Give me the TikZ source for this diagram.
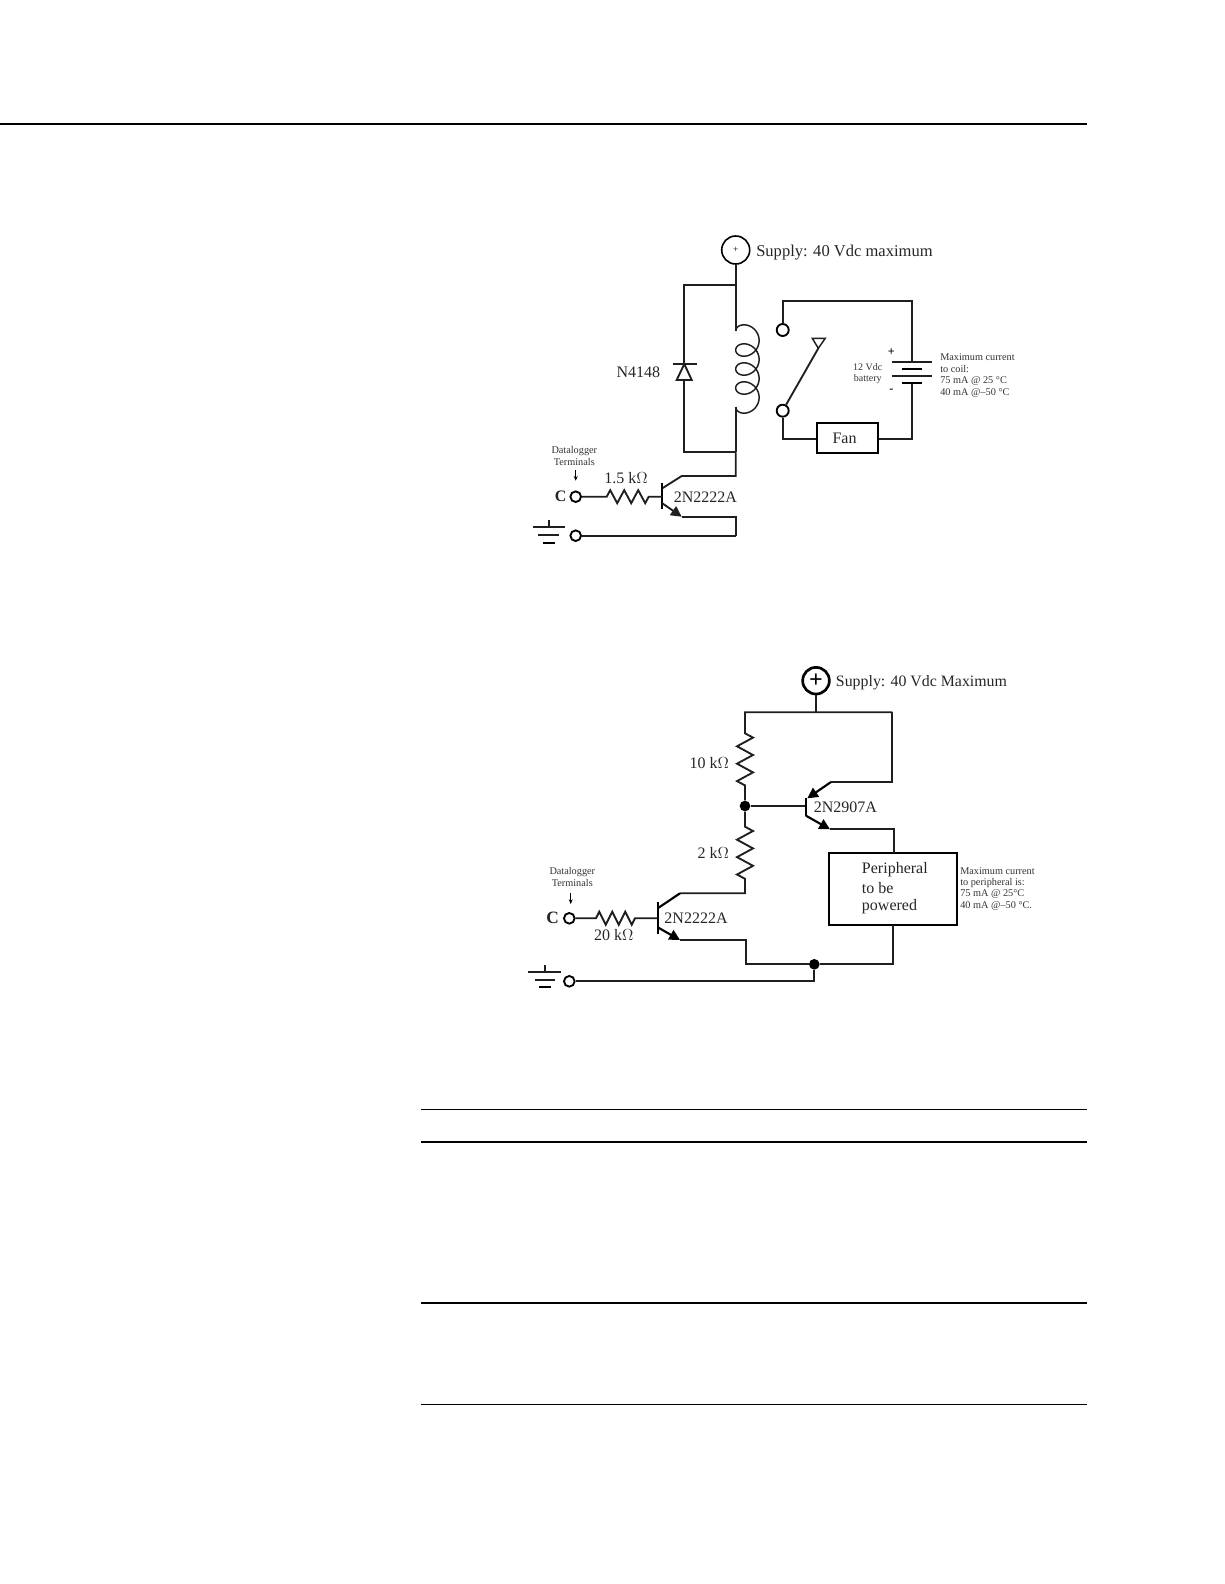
\documentclass[tikz,border=0pt]{standalone}
\usepackage{fontspec}
\setmainfont{Liberation Serif}
\usetikzlibrary{arrows.meta}
\tikzset{
  x=0.75pt,y=-0.75pt,
  wire/.style={line width=1.4pt,line join=miter,draw=black!88},
  bwire/.style={line width=1.6pt,line join=miter},
  rulethin/.style={line width=0.75pt},
  rulethick/.style={line width=1.5pt},
  term/.style={circle,draw,line width=1.4pt,fill=white,inner sep=0pt,minimum size=8pt},
  dot/.style={circle,fill=black,inner sep=0pt,minimum size=8pt},
  lab/.style={inner sep=0pt,font=\fontsize{12}{12}\selectfont,text=black!85},
  small/.style={inner sep=0pt,font=\fontsize{7.7}{7.7}\selectfont,text=black!80},
  box/.style={draw,inner sep=0pt,line width=1.4pt},
  etip/.style={-{Triangle[length=8pt,width=8pt]}},
}
\begin{document}
\begin{tikzpicture}
\useasboundingbox (0,0) rectangle (1224,1584);
\fill[white] (0,0) rectangle (1224,1584);
% page rules
\coordinate (pa) at (0,124); \coordinate (pb) at (1087,124);
\draw[rulethick] (pa) -- (pb);
\coordinate (r1a) at (421,1109.3); \coordinate (r1b) at (1087,1109.3);
\coordinate (r2a) at (421,1142); \coordinate (r2b) at (1087,1142);
\coordinate (r3a) at (421,1302.7); \coordinate (r3b) at (1087,1302.7);
\coordinate (r4a) at (421,1404.3); \coordinate (r4b) at (1087,1404.3);
\draw[rulethin] (r1a) -- (r1b);
\draw[rulethick] (r2a) -- (r2b);
\draw[rulethick] (r3a) -- (r3b);
\draw[rulethin] (r4a) -- (r4b);

% ---------- Diagram 1 ----------
\node[circle,draw,line width=1.2pt,inner sep=0pt,minimum size=21pt,font=\fontsize{7}{7}\selectfont] (sup1) at (735.7,250) {+};
\node[lab,anchor=west,font=\fontsize{12.4}{12.4}\selectfont] (sup1t) at (756,252.5) {Supply: 40 Vdc maximum};
\coordinate (jt) at (735.7,285.3);
\coordinate (lt) at (684.3,285.3);
\coordinate (jb) at (735.7,452.3);
\coordinate (lb) at (684.3,452.3);
\coordinate (ct) at (735.7,331);
\coordinate (cb) at (735.7,407);
\draw[wire] (sup1) -- (jt) -- (ct);
\draw[wire] (cb) -- (jb);
% coil
\draw[wire,line width=1.1pt] plot[domain=0:25.133,samples=200,smooth] ({747.4-11.7*cos(\x r)},{331+19*\x/6.2832-10.5*sin(\x r)});
% diode
\coordinate (dk) at (684.3,364);
\coordinate (da) at (684.3,380);
\draw[wire] (jt) -- (lt) -- (dk);
\draw[wire] (jb) -- (lb) -- (da);
\draw[wire] (672.7,364) -- (696.7,364);
\draw[wire] (da) -- (676.7,380) -- (dk) -- (691.7,380) -- cycle;
\node[lab] (n4148) at (638.3,372.5) {N4148};
% transistor 1
\coordinate (c1) at (681.7,476);
\coordinate (q1c) at (662.3,488.3);
\coordinate (q1e) at (662.3,503.3);
\coordinate (e1) at (681.7,516.7);
\coordinate (q1b) at (662.3,496.7);
\coordinate (e1r) at (735.7,516.7);
\coordinate (g1r) at (735.7,535.7);
\draw[wire] (jb) -- (735.7,476) -- (c1) -- (q1c);
\draw[bwire] (662.3,482.7) -- (662.3,509.3);
\draw[wire,etip] (q1e) -- (e1);
\draw[wire] (e1) -- (e1r) -- (g1r);
\node[term] (tc1) at (575.7,496.7) {};
\node[term] (tg1) at (575.7,535.7) {};
\draw[wire] (g1r) -- (tg1);
\coordinate (r1s) at (606.7,496.7);
\draw[wire] (tc1) -- (r1s) -- ++(3.5,-6.5) -- ++(7,13) -- ++(7,-13) -- ++(7,13) -- ++(7,-13) -- ++(7,13) -- ++(3.5,-6.5) -- (q1b);
\node[lab] (r1t) at (626,477.7) {1.5 k$\Omega$};
\node[lab] (q1t) at (705.3,496.7) {2N2222A};
\node[inner sep=0pt,font=\fontsize{12}{12}\selectfont\bfseries,text=black!85] (c1t) at (560.7,496.7) {C};
\node[small] (dl1a) at (574.3,450.7) {Datalogger};
\node[small] (dl1b) at (574.3,462.3) {Terminals};
\coordinate (a1s) at (575.7,470); \coordinate (a1e) at (575.7,480.7);
\draw[line width=0.6pt,-{Stealth[length=3.5pt,width=3pt]}] (a1s) -- (a1e);
% ground 1
\coordinate (g1s) at (549,520); \coordinate (g1m) at (549,527.3);
\draw[wire] (g1s) -- (g1m);
\draw[wire] (532.7,527.3) -- (565,527.3);
\draw[wire] (538.3,535) -- (559.3,535);
\draw[bwire] (543,542.7) -- (555,542.7);
% switch side
\node[term,minimum size=9pt] (sw1) at (782.7,330) {};
\node[term,minimum size=9pt] (sw2) at (782.7,410.7) {};
\node[box,minimum width=46.2pt,minimum height=22pt] (fan) at (847.5,438) {};
\node[lab] (fant) at (844.5,438.5) {Fan};
\coordinate (bt) at (911.7,362);
\coordinate (bb) at (911.7,382.7);
\draw[wire] (sw1) -- (782.7,301) -- (911.7,301) -- (bt);
\draw[wire] (sw2) -- (782.7,439.3) -- (fan.west |- 0,439.3);
\draw[wire] (fan.east |- 0,439.3) -- (911.7,439.3) -- (bb);
\draw[wire] (891.7,362) -- (932,362);
\draw[bwire] (902,369) -- (921.7,369);
\draw[wire] (891.7,375.7) -- (932,375.7);
\draw[bwire] (902,382.7) -- (921.7,382.7);
\coordinate (armtip) at (818.3,348.3);
\draw[wire] (sw2) -- (armtip);
\draw[wire,line width=1.1pt] (armtip) -- (812.3,338.3) -- (825.3,338.3) -- cycle;
\node[inner sep=0pt,font=\fontsize{9}{9}\selectfont\bfseries] (bp) at (891.3,351.7) {+};
\node[inner sep=0pt,font=\fontsize{9}{9}\selectfont\bfseries] (bm) at (891.3,391) {-};
\node[small,font=\fontsize{7.5}{7.5}\selectfont] (bv) at (867.7,367.3) {12 Vdc};
\node[small,font=\fontsize{7.5}{7.5}\selectfont] (bv2) at (867.7,379) {battery};
\node[small,anchor=west] (m1a) at (940,356.7) {Maximum current};
\node[small,anchor=west] (m1b) at (940,369) {to coil:};
\node[small,anchor=west] (m1c) at (940,380.8) {75 mA @ 25 °C};
\node[small,anchor=west] (m1d) at (940,392.8) {40 mA @–50 °C};

% ---------- Diagram 2 ----------
\node[circle,draw,line width=2pt,inner sep=0pt,minimum size=20pt,font=\fontsize{18}{18}\selectfont\bfseries] (sup2) at (816,680.7) {+};
\node[lab,anchor=west,font=\fontsize{11.9}{11.9}\selectfont] (sup2t) at (835.7,682.5) {Supply: 40 Vdc Maximum};
\coordinate (s2j) at (816,712.3);
\coordinate (s2l) at (745,712.3);
\coordinate (s2r) at (892.3,712.3);
\draw[wire] (sup2) -- (s2j);
\node[dot] (n1) at (745,806) {};
\draw[wire] (s2r) -- (s2j) -- (s2l) -- (745,733.3) -- ++(8,4.3) -- ++(-16,8.7) -- ++(16,8.7) -- ++(-16,8.7) -- ++(16,8.7) -- ++(-16,8.7) -- ++(8,4.3) -- (n1);
\draw[wire] (n1) -- (745,826.7) -- ++(8,4.3) -- ++(-16,8.7) -- ++(16,8.7) -- ++(-16,8.7) -- ++(16,8.7) -- ++(-16,8.7) -- ++(8,4.3) -- (745,893.3) -- (680,893.3) coordinate (c2);
\node[lab,anchor=east] (r10t) at (729.3,763.3) {10 k$\Omega$};
\node[lab,anchor=east] (r2t) at (729.3,852.7) {2 k$\Omega$};
% PNP
\coordinate (q3b) at (806,806);
\coordinate (q3e) at (831,782);
\coordinate (q3et) at (807.3,798.3);
\coordinate (q3c) at (806,815.7);
\coordinate (q3ct) at (830,829.3);
\draw[wire] (n1) -- (q3b);
\draw[bwire] (806,798.3) -- (806,815.7);
\draw[wire] (s2r) -- (892.3,782) -- (q3e);
\draw[bwire,etip] (q3e) -- (q3et);
\draw[bwire,etip] (q3c) -- (q3ct);
\node[lab] (q3t) at (845.3,807.7) {2N2907A};
% peripheral
\node[box,minimum width=95.5pt,minimum height=54.2pt,line width=1.6pt] (per) at (893,888.8) {};
\node[lab,anchor=west] (pt1) at (861.7,870) {Peripheral};
\node[lab,anchor=west] (pt2) at (861.7,887.7) {to be};
\node[lab,anchor=west] (pt3) at (861.7,907) {powered};
\draw[wire] (q3ct) -- (894,829.3) -- (894,852.7);
\node[small,anchor=west] (m2a) at (960,870.7) {Maximum current};
\node[small,anchor=west] (m2b) at (960,882.7) {to peripheral is:};
\node[small,anchor=west] (m2c) at (960,894.3) {75 mA @ 25°C};
\node[small,anchor=west] (m2d) at (960,906) {40 mA @–50 °C.};
% NPN
\node[term] (tc2) at (569.3,918.3) {};
\node[term] (tg2) at (569.3,981.3) {};
\coordinate (q2b) at (657.7,918.3);
\coordinate (q2c) at (657.7,908.3);
\coordinate (q2e) at (657.7,927.3);
\coordinate (e2) at (680,940);
\draw[bwire] (657.7,902.3) -- (657.7,934.3);
\draw[bwire] (c2) -- (q2c);
\draw[bwire,etip] (q2e) -- (e2);
\node[dot] (n2) at (814.3,964.3) {};
\draw[wire] (e2) -- (746,940) -- (746,964.3) -- (n2);
\draw[wire] (n2) -- (893.3,964.3) -- (893.3,925);
\draw[wire] (tg2) -- (814.3,981.3) -- (n2);
\draw[wire] (tc2) -- (596,918.3) -- ++(3.25,-6.5) -- ++(6.5,13) -- ++(6.5,-13) -- ++(6.5,13) -- ++(6.5,-13) -- ++(6.5,13) -- ++(3.25,-6.5) -- (q2b);
\node[lab] (r20t) at (613.7,935.3) {20 k$\Omega$};
\node[lab] (q2t) at (696,918.3) {2N2222A};
\node[inner sep=0pt,font=\fontsize{13}{13}\selectfont\bfseries,text=black!85] (c2t) at (552.7,918.3) {C};
\node[small] (dl2a) at (572.3,871.7) {Datalogger};
\node[small] (dl2b) at (572.3,883.3) {Terminals};
\coordinate (a2s) at (570.7,893.3); \coordinate (a2e) at (570.7,904);
\draw[line width=0.6pt,-{Stealth[length=3.5pt,width=3pt]}] (a2s) -- (a2e);
% ground 2
\coordinate (g2s) at (545,965); \coordinate (g2m) at (545,972);
\draw[wire] (g2s) -- (g2m);
\draw[wire] (528.3,972) -- (560.7,972);
\draw[wire] (535,980) -- (555,980);
\draw[bwire] (539.3,987.3) -- (550.7,987.3);
\end{tikzpicture}
\end{document}
